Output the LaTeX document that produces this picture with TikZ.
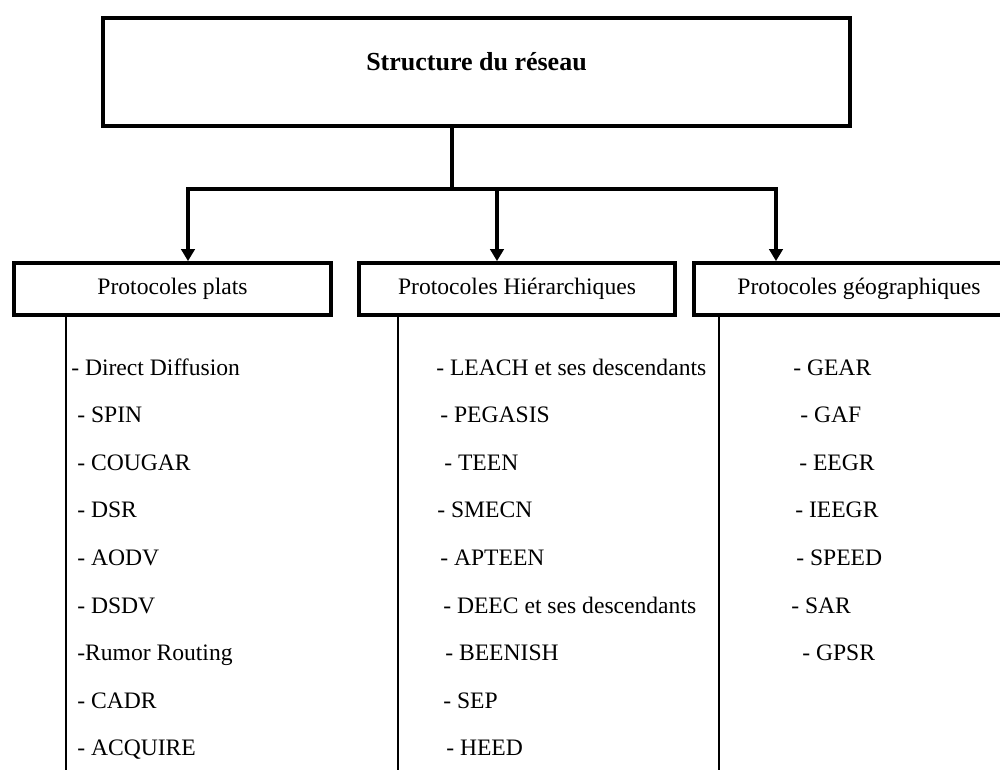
\documentclass[tikz,border=0pt]{standalone}
\usepackage{fontspec}
\setmainfont{Liberation Serif}
\usetikzlibrary{arrows.meta}

\begin{document}
\begin{tikzpicture}[
  x={(0.75pt,0)}, y={(0,-0.75pt)},
  every node/.style={font=\fontsize{17.7}{21}\selectfont},
  topbox/.style={draw, line width=2.8pt, minimum width=560.25pt, minimum height=81pt, inner sep=0pt},
  title/.style={font=\fontsize{19.5}{23}\selectfont\bfseries, inner sep=0pt},
  catbox/.style={draw, line width=2.8pt, minimum height=39pt, inner sep=0pt},
  link/.style={line width=2.8pt},
  arr/.style={line width=2.8pt, -{Triangle[width=10pt, length=9pt]}},
  colline/.style={line width=2.2pt},
  item/.style={anchor=base west, inner sep=0pt}
]
  \useasboundingbox (0,0) rectangle (1000,769);

  % root box and its title
  \node[topbox] (top) at (476.5,72) {};
  \node[title] (ttl) at (476.5,62) {Structure du réseau};

  % the three protocol families
  \node[catbox, minimum width=237.75pt] (p1) at (172.5,289) {Protocoles plats};
  \node[catbox, minimum width=237pt]    (p2) at (517,289)   {Protocoles Hiérarchiques};
  \node[catbox, minimum width=247.5pt]  (p3) at (859,289)   {Protocoles géographiques};

  % tree connectors
  \coordinate (hub) at (452,189);
  \coordinate (x1) at (188,0);
  \coordinate (x2) at (497,0);
  \coordinate (x3) at (776,0);
  \draw[link] (top.south -| hub) -- (hub);
  \draw[arr] (hub) -| (x1 |- p1.north);
  \draw[arr] (hub) -| (x2 |- p2.north);
  \draw[arr] (hub) -| (x3 |- p3.north);

  % vertical rules under each family
  \coordinate (b1) at (66,772);
  \coordinate (b2) at (398,772);
  \coordinate (b3) at (719,772);
  \draw[colline] (b1 |- p1.south) -- (b1);
  \draw[colline] (b2 |- p2.south) -- (b2);
  \draw[colline] (b3 |- p3.south) -- (b3);

  % protocol lists
  \foreach \xx/\txt [count=\i] in {71/- Direct Diffusion, 77/- SPIN, 77/- COUGAR,
      77/- DSR, 77/- AODV, 77/- DSDV, 77/-Rumor Routing, 77/- CADR, 77/- ACQUIRE}{
    \pgfmathsetmacro{\yy}{375+47.6*(\i-1)}
    \node[item] (l1-\i) at (\xx,\yy) {\txt};
  }
  \foreach \xx/\txt [count=\i] in {436/- LEACH et ses descendants, 440/- PEGASIS,
      444/- TEEN, 437/- SMECN, 440/- APTEEN, 443/- DEEC et ses descendants,
      445/- BEENISH, 443/- SEP, 446/- HEED}{
    \pgfmathsetmacro{\yy}{375+47.6*(\i-1)}
    \node[item] (l2-\i) at (\xx,\yy) {\txt};
  }
  \foreach \xx/\txt [count=\i] in {793/- GEAR, 800/- GAF, 799/- EEGR, 795/- IEEGR,
      796/- SPEED, 791/- SAR, 802/- GPSR}{
    \pgfmathsetmacro{\yy}{375+47.6*(\i-1)}
    \node[item] (l3-\i) at (\xx,\yy) {\txt};
  }
\end{tikzpicture}
\end{document}
